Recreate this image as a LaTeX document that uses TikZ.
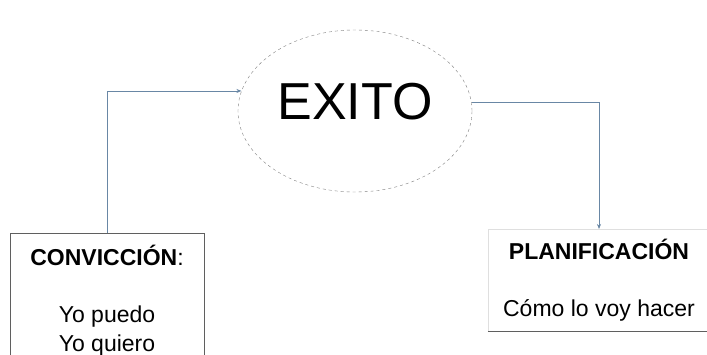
\documentclass[tikz,border=0pt]{standalone}
\usepackage{fontspec}
\setmainfont{Liberation Sans}
\usepackage{xcolor}
\usetikzlibrary{shapes.geometric, positioning, arrows.meta}

\definecolor{linea}{RGB}{105,135,165}
\definecolor{borde}{RGB}{95,95,95}

\begin{document}
\begin{tikzpicture}[
        x=1pt, y=-1pt,
        % Define styles for the ellipse, the boxes and the connectors
        meta/.style={draw=borde!80, dashed, ellipse, minimum width=234pt, minimum height=162pt, text depth=20pt, font=\fontsize{52}{60}\selectfont},
        caja/.style={draw=borde, rectangle, anchor=north, align=center, inner ysep=5pt, font=\fontsize{23}{28.5}\selectfont},
        conector/.style={draw=linea, line width=0.7pt, -{Stealth[length=5pt,width=4pt]}}
    ]
    \useasboundingbox (0,0) rectangle (707,355);

    % Draw the central ellipse
    \node[meta] (exito) at (355,111) {EXITO};

    % Draw the two boxes
    \node[caja, minimum width=194pt, minimum height=135pt] (conviccion) at (107,233)
        {\textbf{CONVICCIÓN}:\\[28.5pt]Yo puedo\\Yo quiero};
    \node[caja, draw=borde!20, minimum width=222pt, minimum height=102pt] (planificacion) at (599,229)
        {\textbf{PLANIFICACIÓN}\\[28.5pt]Cómo lo voy hacer};
    \draw[borde, line width=0.8pt] (planificacion.south west) -- (planificacion.south east);

    % Draw the connecting lines
    \draw[conector] (conviccion.north) |- (exito.170);
    \draw[conector] (exito.4) -| (planificacion.north);

\end{tikzpicture}
\end{document}
